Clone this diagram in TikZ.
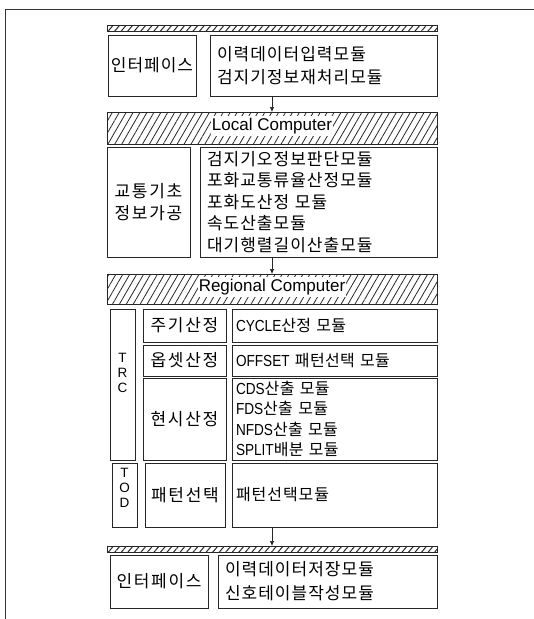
\documentclass[tikz,border=0pt]{standalone}
\usepackage{fontspec}
\setmainfont{Noto Sans CJK KR}[LetterSpace=2]
\newfontfamily\krA{Noto Sans CJK KR}[LetterSpace=10]
\newfontfamily\krB{Noto Sans CJK KR}[LetterSpace=6]
\newfontfamily\la{Liberation Sans}
\newfontfamily\lan{Liberation Sans}[FakeStretch=0.85]
\usetikzlibrary{patterns.meta,arrows.meta,calc}
\begin{document}
\begin{tikzpicture}[x=1pt,y=-1pt,
  box/.style={draw=black!85, line width=0.7pt, anchor=north west, inner sep=0pt, outer sep=0pt,
    font=\krA\fontsize{17}{22}\selectfont, align=center},
  rbox/.style={box, inner xsep=7pt, align=left, font=\krB\fontsize{17}{21.5}\selectfont},
  gbox/.style={box, inner xsep=4pt, align=left, font=\fontsize{16}{20.5}\selectfont},
  bar/.style={draw=black!85, line width=0.7pt, anchor=north west, inner sep=0pt, outer sep=0pt,
    pattern={Lines[angle=60,distance=6pt,line width=0.8pt]}, pattern color=black!85},
  thinbar/.style={draw=black!85, line width=0.6pt, anchor=north west, inner sep=0pt, outer sep=0pt,
    pattern={Lines[angle=50,distance=5pt,line width=1pt]}, pattern color=black!85},
  barlabel/.style={fill=white, inner xsep=1pt, inner ysep=2pt, font=\la\fontsize{17}{18}\selectfont},
  vlabel/.style={font=\la\fontsize{13.5}{14.8}\selectfont, align=center, inner sep=0pt},
  arr/.style={draw=black!85, line width=0.7pt, -{Latex[length=5pt,width=4.5pt]}},
  frame/.style={draw=black!80, line width=0.8pt}
]
\useasboundingbox (0,0) rectangle (534,619);
% outer frame
\draw[frame] (534,9) -- (5,9) -- (5,619);

% top interface
\node[thinbar, minimum width=330pt, minimum height=6pt] (topbar) at (107,25) {};
\node[box, minimum width=88pt, minimum height=61pt, font=\krB\fontsize{17}{22}\selectfont] (ifL) at (108,35) {인터페이스};
\node[rbox, minimum width=227pt, minimum height=61pt, text width=213pt,
  font=\krB\fontsize{17}{23.5}\selectfont] (ifR) at (210,35) {이력데이터입력모듈\\검지기정보재처리모듈};

% local computer
\node[bar, minimum width=330pt, minimum height=32pt] (lcbar) at (107,112) {};
\node[barlabel] (lclab) at ($(lcbar.center)+(0,-2)$) {Local Computer};
\node[box, minimum width=83pt, minimum height=110pt] (lcL) at (107,147) {교통기초\\정보가공};
\node[rbox, minimum width=237pt, minimum height=110pt, text width=223pt] (lcR) at (200,147)
  {검지기오정보판단모듈\\포화교통류율산정모듈\\포화도산정 모듈\\속도산출모듈\\대기행렬길이산출모듈};

% regional computer
\node[bar, minimum width=330pt, minimum height=30pt] (rgbar) at (107,274) {};
\node[barlabel] (rglab) at ($(rgbar.center)+(0,-2)$) {Regional Computer};

\node[box, minimum width=25pt, minimum height=151pt] (trc) at (110,309) {};
\node[vlabel] (trcL) at (122.5,373) {T\\R\\C};

\node[box, minimum width=83pt, minimum height=33pt] (c1L) at (143,309) {주기산정};
\node[gbox, minimum width=205pt, minimum height=33pt, text width=197pt] (c1R) at (232,309)
  {{\lan CYCLE}산정 모듈};
\node[box, minimum width=83pt, minimum height=31pt] (c2L) at (143,345) {옵셋산정};
\node[gbox, minimum width=205pt, minimum height=31pt, text width=197pt] (c2R) at (232,345)
  {{\lan OFFSET} 패턴선택 모듈};
\node[box, minimum width=83pt, minimum height=82pt] (c3L) at (143,378) {현시산정};
\node[gbox, minimum width=205pt, minimum height=82pt, text width=197pt] (c3R) at (232,378)
  {{\lan CDS}산출 모듈\\{\lan FDS}산출 모듈\\{\lan NFDS}산출 모듈\\{\lan SPLIT}배분 모듈};

\node[box, minimum width=25pt, minimum height=64pt] (tod) at (112,463) {};
\node[vlabel] (todL) at (124.5,488) {T\\O\\D};
\node[box, minimum width=80pt, minimum height=64pt] (c4L) at (145,463) {패턴선택};
\node[gbox, minimum width=205pt, minimum height=64pt, text width=197pt, font=\krB\fontsize{16}{20}\selectfont] (c4R) at (232,463) {패턴선택모듈};

% bottom interface
\node[thinbar, minimum width=330pt, minimum height=6pt] (botbar) at (107,546) {};
\node[box, minimum width=98pt, minimum height=53pt] (bfL) at (110,555) {인터페이스};
\node[rbox, minimum width=219pt, minimum height=53pt, text width=205pt,
  font=\krB\fontsize{17}{24}\selectfont] (bfR) at (218,555) {이력데이터저장모듈\\신호테이블작성모듈};

% arrows
\draw[arr] (lcbar.north |- ifR.south) -- (lcbar.north);
\draw[arr] (rgbar.north |- lcR.south) -- (rgbar.north);
\draw[arr] (botbar.north |- c4R.south) -- (botbar.north);
\end{tikzpicture}
\end{document}
